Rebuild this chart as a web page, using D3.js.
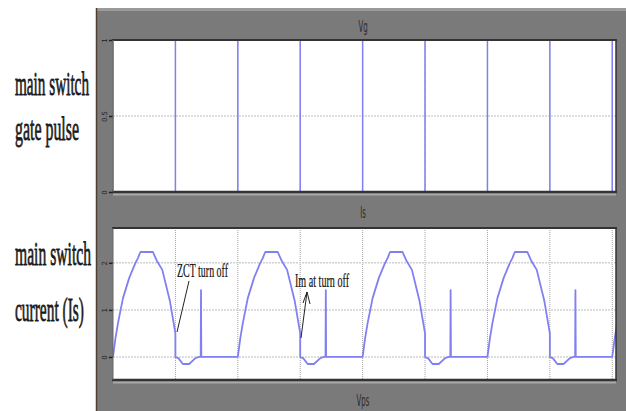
<!DOCTYPE html>
<html><head><meta charset="utf-8">
<script src="https://cdn.jsdelivr.net/npm/d3@7"></script>
<style>body{margin:0;background:#fff}svg{display:block}</style>
</head><body>
<svg id="c" width="626" height="411"></svg>
<script>
// ---- data ----
const gridDivisions = [0,1,2,3,4,5,6,7,8];
const gateTimes  = [0,0,1,2,3,4,5,6,7,8,8.1];
const gateValues = [0,1,0,1,0,1,0,1,0,1,1];
const periodStarts = [0,2,4,6,8];
const cycleT = [0,0.04,0.08,0.16,0.26,0.36,0.4,0.42,0.44,0.64,0.66,0.7,0.79,0.91,1.0,1.0,1.05,1.12,1.22,1.3,1.33,1.38,1.405,1.41,1.415,1.42,2.0];
const cycleI = [0,0.4,0.72,1.25,1.68,2.0,2.1,2.17,2.23,2.23,2.17,2.05,1.85,1.2,0.5,0,-0.03,-0.15,-0.15,-0.05,-0.02,0,0,1.42,0,0,0];
const gateTicks = [0,0.5,1];
const gateTickLabels = ["0","0.5","1"];
const curTicks = [0,1,2];
const curTickLabels = ["0","1","2"];
const leftLabels = [["main switch","gate pulse"],["main switch","current (Is)"]];
const plotTitles = ["Vg","Is","Vps"];

// ---- layout ----
const svg = d3.select("#c");
const X0 = 113, X1 = 616;
const x = d3.scaleLinear().domain([0, 8.06]).range([X0, X1]);
const yG = d3.scaleLinear().domain([0,1]).range([192,40]);
const yI = d3.scaleLinear().domain([-0.49,2.74]).range([380,228]);
const BLUE = "#8080f2";

// gray panel
svg.append("rect").attr("x",96).attr("y",8).attr("width",530).attr("height",403).attr("fill","#7a7a7a");
svg.append("rect").attr("x",96).attr("y",8).attr("width",530).attr("height",3).attr("fill","#9a9a9a");
svg.append("line").attr("x1",96.5).attr("x2",96.5).attr("y1",8).attr("y2",411).attr("stroke","#4e3f30").attr("stroke-width",1.5);

function panel(y, yTop, yBot, ticks, labels, id){
  svg.append("rect").attr("x",X0).attr("y",yTop).attr("width",X1-X0).attr("height",yBot-yTop).attr("fill","#fff");
  svg.append("defs").append("clipPath").attr("id",id).append("rect")
    .attr("x",X0).attr("y",yTop).attr("width",X1-X0).attr("height",yBot-yTop);
  svg.append("g").selectAll("line").data(gridDivisions.slice(1)).join("line")
    .attr("x1",d=>x(d)).attr("x2",d=>x(d)).attr("y1",yTop).attr("y2",yBot)
    .attr("stroke","#a0a0a0").attr("stroke-width",1).attr("stroke-dasharray","1,1");
  svg.append("g").selectAll("line").data(ticks).join("line")
    .attr("x1",X0).attr("x2",X1).attr("y1",d=>y(d)).attr("y2",d=>y(d))
    .attr("stroke","#d2d2d2").attr("stroke-width",1.5).attr("stroke-dasharray","2,1");
  const ax = d3.axisLeft(y).tickValues(ticks).tickSize(4).tickFormat((d,i)=>labels[i]);
  const g = svg.append("g").attr("transform",`translate(${X0},0)`).call(ax);
  g.select(".domain").remove();
  g.selectAll(".tick line").attr("stroke","#222").attr("stroke-width",1.5);
  g.selectAll(".tick text").attr("font-family","DejaVu Sans").attr("font-size",7).attr("fill","#222")
    .attr("x",0).attr("dy",0).attr("text-anchor","middle")
    .attr("transform","translate(-6,0) rotate(-90)");
}
panel(yG,40,192,gateTicks,gateTickLabels,"cg");
panel(yI,228,380,curTicks,curTickLabels,"ci");

// gate pulse
const gatePts = gateTimes.map((t,i)=>[t,gateValues[i]]);
svg.append("path").attr("clip-path","url(#cg)").datum(gatePts)
  .attr("d", d3.line().x(d=>x(d[0])).y(d=>yG(d[1])).curve(d3.curveStepAfter))
  .attr("fill","none").attr("stroke",BLUE).attr("stroke-width",1.5);

// current
const curPts = [];
periodStarts.forEach(p=>cycleT.forEach((t,i)=>curPts.push([p+t,cycleI[i]])));
svg.append("path").attr("clip-path","url(#ci)").datum(curPts)
  .attr("d", d3.line().x(d=>x(d[0])).y(d=>yI(d[1])))
  .attr("fill","none").attr("stroke",BLUE).attr("stroke-width",1.8).attr("stroke-linejoin","round");

// frames
function frame(yTop,yBot){
  svg.append("line").attr("x1",X0-1).attr("x2",X1+1).attr("y1",yTop).attr("y2",yTop).attr("stroke","#333").attr("stroke-width",2);
  svg.append("line").attr("x1",X0-1).attr("x2",X1+1).attr("y1",yBot).attr("y2",yBot).attr("stroke","#333").attr("stroke-width",2.5);
  svg.append("line").attr("x1",X1).attr("x2",X1).attr("y1",yTop).attr("y2",yBot).attr("stroke","#333").attr("stroke-width",1.5);
  svg.append("line").attr("x1",X0).attr("x2",X0).attr("y1",yTop).attr("y2",yBot).attr("stroke","#666").attr("stroke-width",1);
  svg.append("rect").attr("x",X0).attr("y",yBot+1.5).attr("width",X1-X0).attr("height",2).attr("fill","#a8a8a8");
}
frame(40,192);
frame(228,380);

// titles
[[25,plotTitles[0]],[211,plotTitles[1]],[399,plotTitles[2]]].forEach(([yy,t])=>{
  svg.append("text").attr("x",363).attr("y",yy+5).attr("text-anchor","middle")
    .attr("font-family","DejaVu Sans").attr("font-size",10).attr("fill","#2a2a2a")
    .attr("transform",`translate(363,${yy}) scale(0.7,1.5) translate(-363,${-yy})`).text(t);
});

// left labels
const lab = [[leftLabels[0][0],15,95,74],[leftLabels[0][1],15,140,64],[leftLabels[1][0],15,265,76],[leftLabels[1][1],15,321,69]];
lab.forEach(([t,xx,yy,w])=>{
  svg.append("text").attr("x",xx).attr("y",yy).attr("font-family","Liberation Serif").attr("font-size",34)
    .attr("fill","#1a1a1a").attr("stroke","#1a1a1a").attr("stroke-width",0.8)
    .attr("textLength",w).attr("lengthAdjust","spacingAndGlyphs").text(t);
});

// annotations
svg.append("text").attr("x",177).attr("y",277).attr("font-family","Liberation Serif").attr("font-size",19)
  .attr("fill","#111").attr("stroke","#111").attr("stroke-width",0.2).attr("textLength",51).attr("lengthAdjust","spacingAndGlyphs").text("ZCT turn off");
svg.append("line").attr("x1",189).attr("y1",281).attr("x2",177).attr("y2",332).attr("stroke","#222").attr("stroke-width",1);
svg.append("text").attr("x",295).attr("y",287).attr("font-family","Liberation Serif").attr("font-size",18)
  .attr("fill","#111").attr("stroke","#111").attr("stroke-width",0.2).attr("textLength",54).attr("lengthAdjust","spacingAndGlyphs").text("Im at turn off");
svg.append("line").attr("x1",301).attr("y1",338).attr("x2",307).attr("y2",292).attr("stroke","#222").attr("stroke-width",1);
svg.append("path").attr("d","M303,303 L307,292 L310,304").attr("fill","none").attr("stroke","#222").attr("stroke-width",1);
</script>
</body></html>
